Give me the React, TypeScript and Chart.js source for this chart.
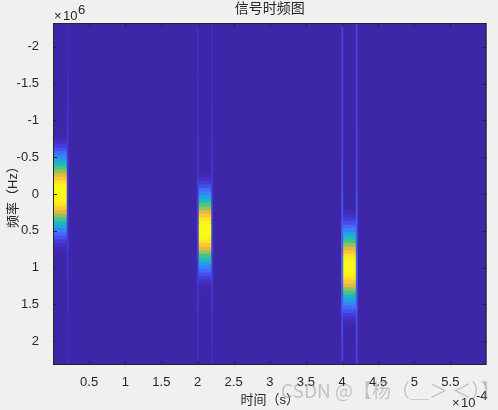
import React, { useEffect, useRef } from "react";
import { Chart, registerables } from "chart.js";

Chart.register(...registerables);

const chartTitle = "信号时频图";
const xLabel = "时间（s）";
const yLabel = "频率（Hz）";
const watermark = "CSDN @【杨（＿＞ ＜）】";

// pulse time spans (s) and centre frequencies (Hz)
const pulseStart = [0, 2.0e-4, 4.0e-4];
const pulseEnd = [0.2e-4, 2.2e-4, 4.2e-4];
const pulseCentre = [0, 0.5e6, 1.0e6];

// spectral profile: frequency offset from the centre and level (0..1)
const rowOffsets = [
  -0.8, -0.75, -0.7, -0.65, -0.6, -0.55, -0.5, -0.45, -0.4, -0.35, -0.3, -0.25, -0.2, -0.15, -0.1, -0.05, 0,
  0.05, 0.1, 0.15, 0.2, 0.25, 0.3, 0.35, 0.4, 0.45, 0.5, 0.55, 0.6, 0.65, 0.7, 0.75, 0.8,
];
const rowLevels = [
  0.005, 0.02, 0.04, 0.08, 0.13, 0.19, 0.27, 0.37, 0.47, 0.56, 0.66, 0.76, 0.85, 0.94, 0.98, 1, 1,
  1, 0.98, 0.94, 0.85, 0.76, 0.66, 0.56, 0.47, 0.37, 0.27, 0.19, 0.13, 0.08, 0.04, 0.02, 0.005,
];

// faint vertical lines at the pulse edges
const edgeTimes = [0.2e-4, 2.0e-4, 2.2e-4, 4.0e-4, 4.2e-4];
const edgeBands = [-2.2, -1.8, -1.4, -1.0, -0.6, -0.2, 0.2, 0.6, 1.0, 1.4, 1.8, 2.2];
const edgeLevels = [
  [0.03, 0.03, 0.04, 0.05, 0.07, 0.08, 0.08, 0.07, 0.05, 0.04, 0.03, 0.03],
  [0.03, 0.03, 0.03, 0.04, 0.05, 0.06, 0.08, 0.09, 0.08, 0.06, 0.04, 0.03],
  [0.03, 0.03, 0.03, 0.04, 0.05, 0.06, 0.08, 0.09, 0.08, 0.06, 0.04, 0.03],
  [0.1, 0.1, 0.1, 0.1, 0.11, 0.12, 0.14, 0.16, 0.18, 0.16, 0.12, 0.1],
  [0.1, 0.1, 0.1, 0.1, 0.11, 0.12, 0.14, 0.16, 0.18, 0.16, 0.12, 0.1],
];

const xTicks = [0.5e-4, 1e-4, 1.5e-4, 2e-4, 2.5e-4, 3e-4, 3.5e-4, 4e-4, 4.5e-4, 5e-4, 5.5e-4];
const yTicks = [-2e6, -1.5e6, -1e6, -0.5e6, 0, 0.5e6, 1e6, 1.5e6, 2e6];

const paletteStops = [
  [62, 38, 168], [71, 64, 229], [68, 112, 253], [47, 144, 240], [28, 171, 218], [31, 191, 176],
  [95, 199, 112], [181, 189, 77], [252, 185, 59], [249, 215, 42], [249, 251, 21],
];

function levelColour(v: number): string {
  const p = Math.max(0, Math.min(0.9999, v)) * (paletteStops.length - 1);
  const i = Math.floor(p);
  const f = p - i;
  const a = paletteStops[i];
  const b = paletteStops[i + 1];
  return `rgb(${a.map((c, k) => Math.round(c + (b[k] - c) * f)).join(",")})`;
}

const FONT = "'Liberation Sans', 'Noto Sans CJK SC', sans-serif";
const INK = "#262626";

const framePlugin = {
  id: "frame",
  beforeDatasetsDraw(chart: any) {
    const { ctx, chartArea: a } = chart;
    ctx.save();
    ctx.fillStyle = levelColour(0);
    ctx.fillRect(a.left, a.top, a.right - a.left, a.bottom - a.top);
    ctx.restore();
  },
  afterDraw(chart: any) {
    const { ctx, chartArea: a, scales } = chart;
    ctx.save();
    ctx.strokeStyle = INK;
    ctx.lineWidth = 1;
    ctx.strokeRect(a.left + 0.5, a.top + 0.5, a.right - a.left - 1, a.bottom - a.top - 1);
    ctx.beginPath();
    for (const t of scales.x.ticks) {
      const x = Math.round(scales.x.getPixelForValue(t.value)) + 0.5;
      ctx.moveTo(x, a.top);
      ctx.lineTo(x, a.top + 4);
      ctx.moveTo(x, a.bottom);
      ctx.lineTo(x, a.bottom - 4);
    }
    for (const t of scales.y.ticks) {
      const y = Math.round(scales.y.getPixelForValue(t.value)) + 0.5;
      ctx.moveTo(a.left, y);
      ctx.lineTo(a.left + 4, y);
      ctx.moveTo(a.right, y);
      ctx.lineTo(a.right - 4, y);
    }
    ctx.stroke();

    ctx.fillStyle = INK;
    ctx.textBaseline = "alphabetic";
    ctx.textAlign = "left";
    ctx.font = `13px ${FONT}`;
    ctx.fillText("×", 54, 20);
    ctx.fillText("10", 63, 20);
    ctx.fillText("6", 78, 14);
    ctx.fillText("×", 452, 407);
    ctx.fillText("10", 461, 407);
    ctx.fillText("-4", 476, 400);

    ctx.fillStyle = "rgba(130,130,130,0.42)";
    ctx.font = `19px 'Noto Sans CJK SC', ${FONT}`;
    ctx.fillText(watermark, 281, 398);
    ctx.restore();
  },
};

export default function App() {
  const ref = useRef<HTMLCanvasElement>(null);

  useEffect(() => {
    document.body.style.margin = "0";
    document.body.style.background = "#f0f0f0";

    const pulseSets = pulseCentre.map((centre, p) => ({
      data: rowOffsets.map((o) => ({ y: centre + o * 1e6, x: [pulseStart[p], pulseEnd[p]] })),
      backgroundColor: rowLevels.map(levelColour),
      barThickness: 4.2,
      borderWidth: 0,
      grouped: false,
    }));
    const edgeSets = edgeTimes.map((t, e) => ({
      data: edgeBands.map((f) => ({ y: f * 1e6, x: [t - 0.005e-4, t + 0.012e-4] })),
      backgroundColor: edgeLevels[e].map(levelColour),
      barThickness: 30,
      borderWidth: 0,
      grouped: false,
    }));

    const chart = new Chart(ref.current as HTMLCanvasElement, {
      type: "bar",
      data: { datasets: [...edgeSets, ...pulseSets] as any },
      plugins: [framePlugin],
      options: {
        animation: false,
        responsive: false,
        indexAxis: "y",
        layout: { padding: { top: 0, right: 11.5, bottom: 0, left: 0 } },
        plugins: {
          legend: { display: false },
          tooltip: { enabled: false },
          title: {
            display: true,
            text: chartTitle,
            fullSize: false,
            color: INK,
            font: { family: FONT, size: 14, weight: "normal" },
            padding: { top: 1, bottom: 5.2 },
          },
        },
        scales: {
          x: {
            type: "linear",
            min: 0,
            max: 6e-4,
            afterBuildTicks(s: any) {
              s.ticks = xTicks.map((value) => ({ value }));
            },
            afterFit(s: any) {
              s.height = 45;
            },
            grid: { display: false },
            border: { display: false },
            ticks: {
              autoSkip: false,
              maxRotation: 0,
              padding: 2,
              color: INK,
              font: { family: FONT, size: 13 },
              callback: (v: any) => String(Math.round((Number(v) / 1e-4) * 10) / 10),
            },
            title: {
              display: true,
              text: xLabel,
              color: INK,
              font: { family: FONT, size: 13 },
              padding: { top: 0, bottom: 2 },
            },
          },
          y: {
            type: "linear",
            reverse: true,
            offset: false,
            min: -2.325e6,
            max: 2.325e6,
            afterBuildTicks(s: any) {
              s.ticks = yTicks.map((value) => ({ value }));
            },
            afterFit(s: any) {
              s.width = 53;
            },
            grid: { display: false, offset: false },
            border: { display: false },
            ticks: {
              autoSkip: false,
              padding: 6,
              color: INK,
              font: { family: FONT, size: 13 },
              callback: (v: any) => String(Number(v) / 1e6),
            },
            title: {
              display: true,
              text: yLabel,
              color: INK,
              font: { family: FONT, size: 13 },
              padding: { top: 6, bottom: 0 },
            },
          },
        },
      } as any,
    });
    return () => chart.destroy();
  }, []);

  return (
    <div style={{ width: 498, height: 410, background: "#f0f0f0", overflow: "hidden" }}>
      <canvas ref={ref} width={498} height={410} style={{ display: "block" }} />
    </div>
  );
}
